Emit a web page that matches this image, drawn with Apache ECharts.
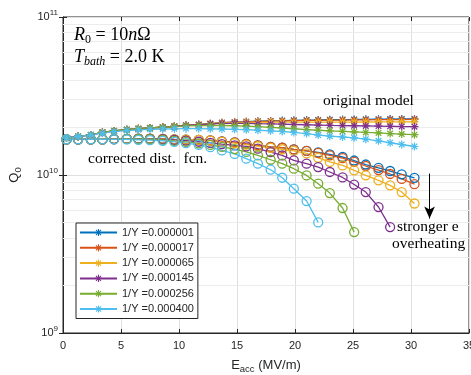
<!DOCTYPE html>
<html><head><meta charset="utf-8">
<script src="https://cdn.jsdelivr.net/npm/echarts@6/dist/echarts.min.js"></script>
<style>html,body{margin:0;padding:0;background:#fff}#c{width:471px;height:375px}</style>
</head><body><div id="c"></div>
<script>
// x values (Eacc, MV/m)
const eAcc = [0.3,1.3,2.4,3.4,4.4,5.5,6.5,7.5,8.6,9.6,10.6,11.7,12.7,13.7,14.8,15.8,16.8,17.9,18.9,19.9,21.0,22.0,23.0,24.1,25.1,26.1,27.2,28.2,29.2,30.3];
const invY = ['0.000001','0.000017','0.000065','0.000145','0.000256','0.000400'];
const colors = ['#0072BD','#D95319','#EDB120','#7E2F8E','#77AC30','#4DBEEE'];
const qUnit = 1e10;

// original model (asterisks), Q0 in units of 1e10
const orig1 = [1.717,1.754,1.793,1.860,1.901,1.934,1.963,1.986,2.005,2.029,2.059,2.080,2.111,2.142,2.160,2.175,2.188,2.200,2.210,2.220,2.228,2.231,2.238,2.244,2.247,2.252,2.256,2.259,2.262,2.263];
const orig2 = [1.717,1.754,1.793,1.860,1.901,1.934,1.963,1.986,2.005,2.029,2.059,2.080,2.111,2.142,2.158,2.170,2.180,2.190,2.200,2.208,2.215,2.220,2.225,2.228,2.232,2.236,2.240,2.243,2.246,2.250];
const orig3 = [1.717,1.754,1.793,1.860,1.901,1.934,1.963,1.986,2.005,2.029,2.059,2.080,2.111,2.135,2.145,2.150,2.155,2.158,2.160,2.160,2.160,2.160,2.162,2.163,2.164,2.165,2.166,2.167,2.168,2.170];
const orig4 = [1.717,1.754,1.793,1.860,1.901,1.934,1.963,1.986,2.005,2.029,2.059,2.080,2.105,2.120,2.125,2.120,2.112,2.104,2.096,2.088,2.080,2.070,2.062,2.055,2.050,2.045,2.040,2.034,2.028,2.022];
const orig5 = [1.717,1.754,1.793,1.860,1.901,1.934,1.963,1.986,2.005,2.025,2.045,2.055,2.060,2.058,2.050,2.040,2.022,2.003,1.983,1.962,1.940,1.920,1.905,1.890,1.875,1.860,1.845,1.830,1.815,1.800];
const orig6 = [1.717,1.750,1.790,1.840,1.880,1.910,1.930,1.945,1.955,1.960,1.965,1.965,1.960,1.955,1.945,1.935,1.920,1.905,1.885,1.860,1.830,1.790,1.760,1.740,1.720,1.685,1.645,1.600,1.560,1.515];

// corrected dist. fcn. (circles), Q0 in units of 1e10
const corr1 = [1.680,1.680,1.680,1.680,1.688,1.692,1.697,1.697,1.692,1.680,1.673,1.667,1.655,1.631,1.608,1.573,1.539,1.506,1.488,1.452,1.420,1.390,1.350,1.300,1.235,1.165,1.110,1.060,1.010,0.960];
const corr2 = [1.680,1.680,1.680,1.680,1.688,1.692,1.697,1.697,1.692,1.680,1.673,1.667,1.655,1.631,1.608,1.573,1.539,1.506,1.488,1.452,1.420,1.380,1.330,1.280,1.210,1.140,1.075,1.015,0.945,0.875];
const corr3 = [1.680,1.680,1.680,1.680,1.688,1.692,1.697,1.697,1.692,1.680,1.673,1.667,1.650,1.620,1.590,1.555,1.520,1.485,1.455,1.420,1.370,1.285,1.210,1.150,1.070,0.995,0.925,0.860,0.780,0.660];
const corr4 = [1.680,1.680,1.680,1.680,1.688,1.692,1.697,1.692,1.685,1.667,1.648,1.624,1.596,1.566,1.539,1.517,1.467,1.396,1.330,1.237,1.179,1.122,1.045,0.965,0.870,0.780,0.627,0.468];
const corr5 = [1.680,1.680,1.680,1.680,1.685,1.690,1.690,1.685,1.667,1.643,1.620,1.585,1.550,1.506,1.460,1.400,1.330,1.249,1.179,1.096,0.994,0.881,0.768,0.618,0.435];
const corr6 = [1.680,1.680,1.680,1.680,1.680,1.680,1.670,1.660,1.645,1.620,1.590,1.550,1.500,1.430,1.360,1.268,1.179,1.080,0.961,0.819,0.684,0.501];

const origAll = [orig1, orig2, orig3, orig4, orig5, orig6];
const corrAll = [corr1, corr2, corr3, corr4, corr5, corr6];

// axis ticks
const xMin = 0, xMax = 35, xStep = 5;
const yMin = 1e9, yMax = 1e11;
const minorQ = [2e9,3e9,4e9,5e9,6e9,7e9,8e9,9e9,2e10,3e10,4e10,5e10,6e10,7e10,8e10,9e10];
// annotation arrow (data coords)
const arrowX = 31.6;
const arrowQ = [1.02e10, 0.53e10];

const asterisk = 'path://M0 8.5L20 8.5L20 11.5L0 11.5ZM8.5 0L11.5 0L11.5 20L8.5 20ZM1.94 4.06L4.06 1.94L18.06 15.94L15.94 18.06ZM15.94 1.94L18.06 4.06L4.06 18.06L1.94 15.94Z';
const sans = 'Liberation Sans';
const serif = 'Liberation Serif';
const ink = '#262626';

const series = [];
series.push({
  type: 'line', name: '_grid', data: [], silent: true, z: 1,
  markLine: {
    silent: true, z: 1, symbol: 'none', animation: false,
    label: {show: false},
    lineStyle: {color: '#ececec', width: 1, type: 'solid'},
    emphasis: {disabled: true},
    data: minorQ.map(v => ({yAxis: v}))
  }
});
series.push({
  type: 'line', name: '_arrow', data: [], silent: true, z: 3,
  markLine: {
    silent: true, z: 6, animation: false,
    symbol: ['none', 'arrow'], symbolSize: 10,
    label: {show: false},
    lineStyle: {color: '#000', width: 1, type: 'solid'},
    itemStyle: {color: '#000'},
    emphasis: {disabled: true},
    data: [[
      {coord: [arrowX, arrowQ[0]], symbol: 'none'},
      {coord: [arrowX, arrowQ[1]], symbol: 'arrow', symbolSize: [8, 12]}
    ]]
  }
});
for (let i = 0; i < 6; i++) {
  const c = colors[i];
  series.push({
    name: '1/Y =' + invY[i], type: 'line', z: 3,
    data: origAll[i].map((q, k) => [eAcc[k], q * qUnit]),
    symbol: asterisk, symbolSize: 8,
    itemStyle: {color: c},
    lineStyle: {color: c, width: 1.3},
    emphasis: {disabled: true}
  });
  series.push({
    name: 'corr' + i, type: 'line', z: 3,
    data: corrAll[i].map((q, k) => [eAcc[k], q * qUnit]),
    symbol: 'circle', symbolSize: 9,
    itemStyle: {color: 'rgba(255,255,255,0)', borderColor: c, borderWidth: 1.3},
    lineStyle: {color: c, width: 1.3},
    emphasis: {disabled: true}
  });
}

const chart = echarts.init(document.getElementById('c'), null, {renderer: 'canvas'});
chart.setOption({
  animation: false,
  backgroundColor: '#fff',
  grid: {left: 63, right: 2, top: 17, bottom: 42, show: true, borderColor: ink, borderWidth: 1, containLabel: false, outerBoundsMode: 'none'},
  xAxis: [{
    type: 'value', min: xMin, max: xMax, interval: xStep,
    name: '{e|E}{s|acc}{e| (MV/m)}', nameLocation: 'middle', nameGap: 23,
    nameTextStyle: {rich: {
      e: {fontFamily: sans, fontSize: 13, color: ink, lineHeight: 18},
      s: {fontFamily: sans, fontSize: 9.5, color: ink, lineHeight: 10, verticalAlign: 'bottom'}
    }},
    axisLine: {lineStyle: {color: ink}},
    axisTick: {inside: true, length: 4, lineStyle: {color: ink}},
    axisLabel: {fontFamily: sans, fontSize: 11, color: ink, margin: 7},
    splitLine: {show: true, lineStyle: {color: '#dfdfdf', width: 1}}
  }, {
    type: 'value', min: xMin, max: xMax, interval: xStep, position: 'top',
    axisLine: {show: false}, axisTick: {inside: true, length: 4, lineStyle: {color: ink}},
    axisLabel: {show: false}, splitLine: {show: false}
  }],
  yAxis: [{
    type: 'log', logBase: 10, min: yMin, max: yMax,
    name: '{q|Q}{s|0}', nameLocation: 'middle', nameGap: 40,
    nameTextStyle: {rich: {
      q: {fontFamily: sans, fontSize: 13, color: ink, lineHeight: 18},
      s: {fontFamily: sans, fontSize: 9.5, color: ink, lineHeight: 10, verticalAlign: 'bottom'}
    }},
    axisLine: {show: true, lineStyle: {color: ink}},
    axisTick: {inside: true, length: 4, lineStyle: {color: ink}},
    axisLabel: {
      margin: 5,
      formatter: v => '{b|10}{p|' + Math.round(Math.log10(v)) + '}',
      rich: {
        b: {fontFamily: sans, fontSize: 11, color: ink, lineHeight: 16},
        p: {fontFamily: sans, fontSize: 8, color: ink, lineHeight: 8, verticalAlign: 'top'}
      }
    },
    splitLine: {show: true, lineStyle: {color: '#dfdfdf', width: 1}}
  }, {
    type: 'log', logBase: 10, min: yMin, max: yMax, position: 'right',
    axisLine: {show: false}, axisTick: {inside: true, length: 4, lineStyle: {color: ink}},
    axisLabel: {show: false}, splitLine: {show: false}
  }],
  legend: {
    data: invY.map(s => '1/Y =' + s),
    orient: 'vertical', left: 76, top: 223,
    itemWidth: 37, itemHeight: 9, itemGap: 2.3,
    padding: [3, 4, 3, 3],
    backgroundColor: '#fff', borderColor: ink, borderWidth: 1,
    textStyle: {fontFamily: sans, fontSize: 11, color: ink, lineHeight: 13},
    selectedMode: false
  },
  series: series,
  graphic: [
    {type: 'text', z: 10, style: {x: 74, y: 35, verticalAlign: 'middle',
      text: '{i|R}{s|0}{n| = 10}{i|n}{n|Ω}',
      rich: {
        i: {fontFamily: serif, fontStyle: 'italic', fontSize: 18, lineHeight: 22, fill: '#000'},
        n: {fontFamily: serif, fontSize: 18, lineHeight: 22, fill: '#000'},
        s: {fontFamily: serif, fontSize: 12, lineHeight: 13, verticalAlign: 'bottom', fill: '#000'}
      }}},
    {type: 'text', z: 10, style: {x: 74, y: 57, verticalAlign: 'middle',
      text: '{i|T}{s|bath}{n| = 2.0 K}',
      rich: {
        i: {fontFamily: serif, fontStyle: 'italic', fontSize: 18, lineHeight: 22, fill: '#000'},
        n: {fontFamily: serif, fontSize: 18, lineHeight: 22, fill: '#000'},
        s: {fontFamily: serif, fontStyle: 'italic', fontSize: 12, lineHeight: 13, verticalAlign: 'bottom', fill: '#000'}
      }}},
    {type: 'text', z: 10, style: {x: 323, y: 101, verticalAlign: 'middle', text: 'original model', fontFamily: serif, fontSize: 15.5, fill: '#000'}},
    {type: 'text', z: 10, style: {x: 88, y: 159, verticalAlign: 'middle', text: 'corrected dist.  fcn.', fontFamily: serif, fontSize: 15.5, fill: '#000'}},
    {type: 'text', z: 10, style: {x: 397, y: 227, verticalAlign: 'middle', text: 'stronger e', fontFamily: serif, fontSize: 15.5, fill: '#000'}},
    {type: 'text', z: 10, style: {x: 392, y: 244, verticalAlign: 'middle', text: 'overheating', fontFamily: serif, fontSize: 15.5, fill: '#000'}}
  ]
});
</script>
</body></html>
